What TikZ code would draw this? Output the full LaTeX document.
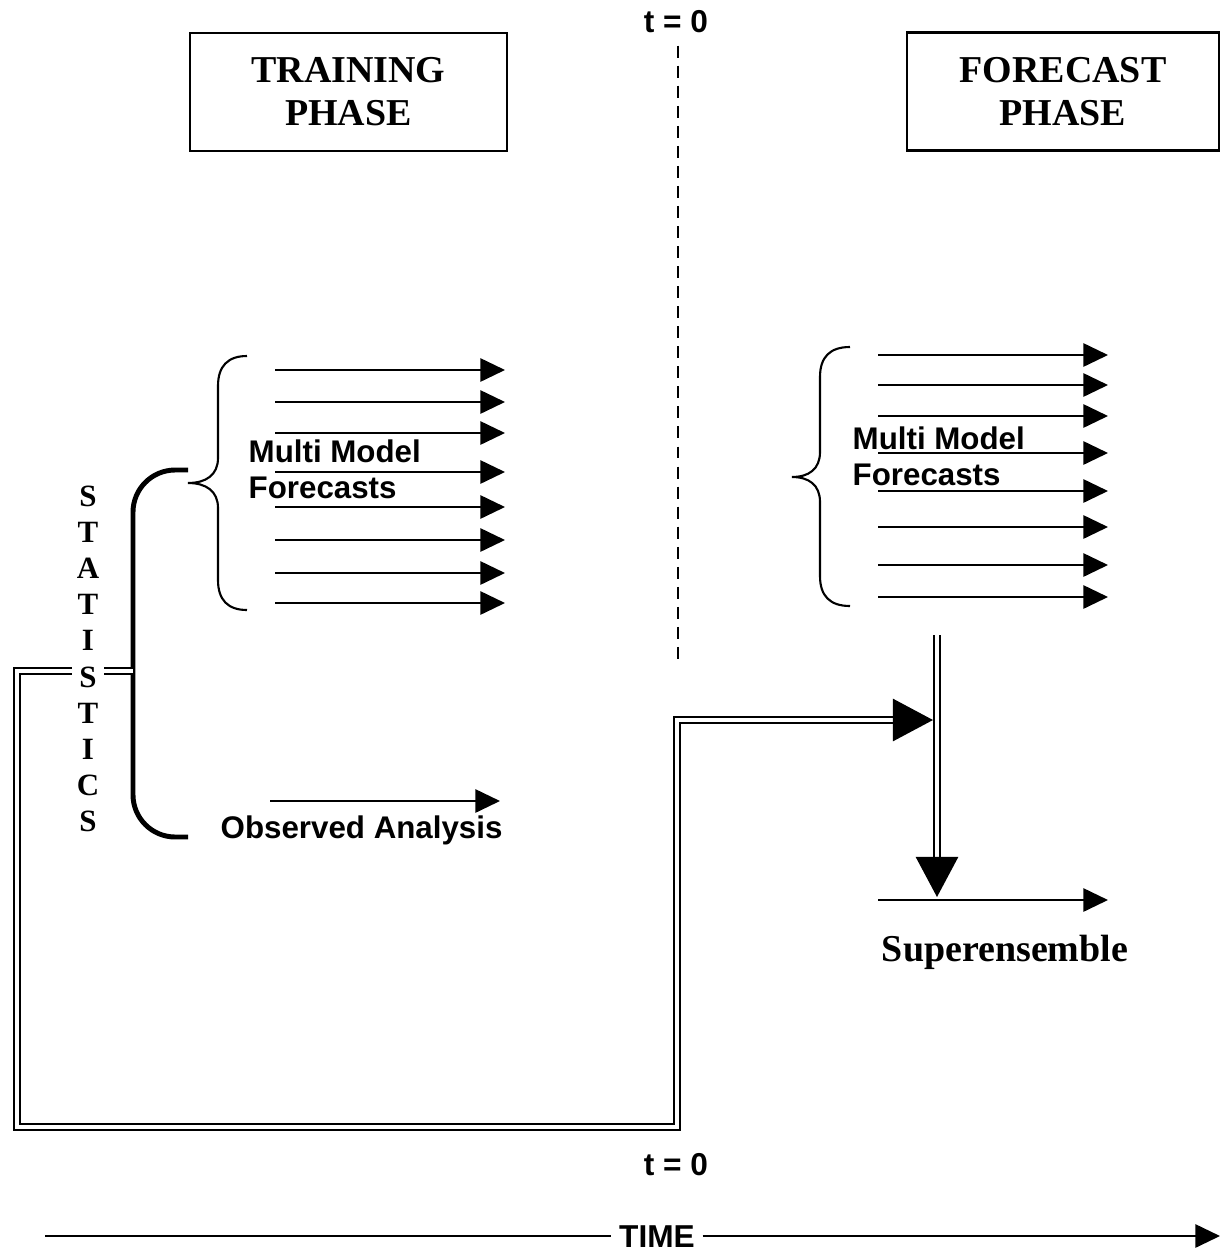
\documentclass[tikz,border=0pt]{standalone}
\usepackage{fontspec}
\setmainfont{Liberation Serif}
\setsansfont{Liberation Sans}
\usetikzlibrary{arrows.meta}

\newcommand{\phasefont}{\fontsize{10.8}{12.2}\selectfont\bfseries}
\newcommand{\mmfont}{\fontsize{8.9}{10.2}\selectfont\sffamily\bfseries}
\newcommand{\tzfont}{\fontsize{9}{10}\selectfont\sffamily\bfseries}
\newcommand{\statfont}{\fontsize{8.8}{10}\selectfont\bfseries}

\tikzset{
 fcarrow/.style={line width=0.6pt, -{Triangle[length=7pt,width=6.6pt]}},
 bigtip/.style={line width=0.6pt, -{Triangle[length=11.4pt,width=12pt]}},
 dbl/.style={double, double distance=1pt, line width=0.5pt},
 phasebox/.style={draw, line width=0.6pt, minimum height=1.18cm, align=center, font=\phasefont},
 curly/.style={line width=0.6pt}
}

\begin{document}
\begin{tikzpicture}[x=0.01cm, y=-0.01cm]
\useasboundingbox (0,0) rectangle (1222,1251);

% phases
\node[phasebox, minimum width=3.17cm] (train) at (348.5,92) {TRAINING\\PHASE};
\node[phasebox, minimum width=3.12cm] (fcst) at (1063,91.5) {FORECAST\\PHASE};

% t = 0
\node[font=\tzfont] (ttop) at (676,22) {t = 0};
\coordinate (tline) at (678,663);
\draw[line width=0.75pt, dash pattern=on 3.4pt off 2.3pt] (ttop.south -| tline) -- (tline);

% training phase
\foreach \y [count=\i] in {370,402,433,472,507,540,573,603} {
 \coordinate (trs\i) at (275,\y);
 \coordinate (tre\i) at (505,\y);
 \draw[fcarrow] (trs\i) -- (tre\i);
}
\draw[curly] (247,356) .. controls (228,356) and (218,366) .. (218,386) -- (218,458)
 .. controls (218,475) and (206,483) .. (188,483)
 .. controls (206,483) and (218,491) .. (218,508) -- (218,580)
 .. controls (218,600) and (228,610) .. (247,610);
\node[font=\mmfont, align=left, anchor=west, inner sep=0] (mmtrain) at (248,469) {Multi Model\\Forecasts};

\coordinate (obss) at (270,801);
\coordinate (obse) at (500,801);
\draw[fcarrow] (obss) -- (obse);
\node[font=\mmfont, anchor=base west, inner sep=0] (obs) at (220,838) {Observed Analysis};

% statistics
\coordinate (sk) at (133,671);
\draw[line width=1.4pt, rounded corners=12pt] (188,470) -- (133,470) -- (133,837) -- (188,837);
\coordinate (tipr) at (933,720);
\draw[dbl, shorten >=6pt] (sk) -- (17,671) -- (17,1127) -- (677,1127) -- (677,720) -- (tipr);
\draw[bigtip] (tipr) ++(-17,0) -- (tipr);
\foreach \c [count=\i from 0] in {S,T,A,T,I,S,T,I,C,S}
 \node[font=\statfont, fill=white, inner xsep=2pt, inner ysep=0pt] (st\i) at (88,496+36.2*\i) {\c};

% forecast phase
\foreach \y [count=\i] in {355,385,416,453,491,527,565,597} {
 \coordinate (fcs\i) at (878,\y);
 \coordinate (fce\i) at (1108,\y);
 \draw[fcarrow] (fcs\i) -- (fce\i);
}
\draw[curly] (850,347) .. controls (830,347) and (820,357) .. (820,377) -- (820,452)
 .. controls (820,469) and (809,477) .. (792,477)
 .. controls (809,477) and (820,485) .. (820,502) -- (820,576)
 .. controls (820,596) and (830,606) .. (850,606);
\node[font=\mmfont, align=left, anchor=west, inner sep=0] (mmfcst) at (852,456) {Multi Model\\Forecasts};

% superensemble
\coordinate (vtop) at (937,635);
\coordinate (tipd) at (937,897);
\draw[dbl, shorten >=6pt] (vtop) -- (tipd);
\draw[bigtip] (tipd) ++(0,-17) -- (tipd);
\coordinate (sups) at (878,900);
\coordinate (supe) at (1108,900);
\draw[fcarrow] (sups) -- (supe);
\node[font=\phasefont] (sup) at (1005,952) {Superensemble};

% time axis
\node[font=\tzfont] (tbot) at (676,1165) {t = 0};
\node[font=\tzfont, inner xsep=2pt, inner ysep=1pt] (time) at (657,1237) {TIME};
\coordinate (tl) at (45,1236);
\coordinate (tr) at (1220,1236);
\draw[line width=0.6pt] (tl) -- (tl -| time.west);
\draw[fcarrow] (tl -| time.east) -- (tr);
\end{tikzpicture}
\end{document}
